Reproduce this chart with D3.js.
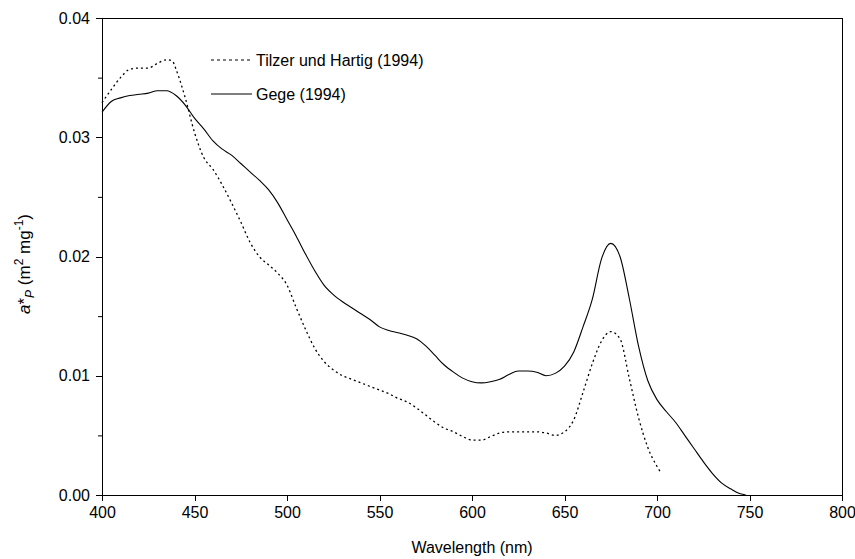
<!DOCTYPE html>
<html>
<head>
<meta charset="utf-8">
<script src="https://cdn.jsdelivr.net/npm/d3@7"></script>
<style>
html,body{margin:0;padding:0;background:#fff;}
svg{display:block;}
text{font-family:"Liberation Sans",Arial,sans-serif;fill:#000;}
</style>
</head>
<body>
<svg id="chart" width="855" height="559"></svg>
<script>
// ---- data ----
const gegeWavelength = [400,405,410,415,420,425,430,435,440,445,450,455,460,465,470,475,480,485,490,495,500,505,510,515,520,525,530,535,540,545,550,555,560,565,570,575,580,585,590,595,600,605,610,615,620,625,630,635,640,645,650,655,660,665,670,675,680,685,690,695,700,705,710,715,720,725,730,735,740,745,748];
const gegeValues = [0.0321,0.0330,0.0333,0.0335,0.0336,0.0337,0.0339,0.0339,0.0335,0.0327,0.0316,0.0307,0.0297,0.0290,0.0285,0.0278,0.0271,0.0264,0.0256,0.0245,0.0231,0.0217,0.0202,0.0188,0.0176,0.0168,0.0162,0.0157,0.0152,0.0147,0.0141,0.0138,0.0136,0.0134,0.0131,0.0125,0.0117,0.0109,0.0103,0.0098,0.0095,0.0094,0.0095,0.0097,0.0101,0.0104,0.0104,0.0103,0.0100,0.0102,0.0108,0.0120,0.0141,0.0164,0.0198,0.0211,0.0200,0.0165,0.0125,0.0096,0.0080,0.0070,0.0061,0.0050,0.0039,0.0028,0.0018,0.0010,0.0005,0.0001,0.0000];

const tilzerWavelength = [400,405,410,415,420,425,430,435,438,440,445,450,455,460,465,470,475,480,485,490,495,500,505,510,515,520,525,530,535,540,545,550,555,560,565,570,575,580,585,590,595,600,605,610,615,620,625,630,635,640,645,650,655,660,665,670,675,680,685,690,695,700,702];
const tilzerValues = [0.0329,0.0340,0.0350,0.0357,0.0358,0.0358,0.0362,0.0365,0.0364,0.0357,0.0333,0.0304,0.0283,0.0273,0.0260,0.0245,0.0229,0.0212,0.0200,0.0193,0.0186,0.0176,0.0157,0.0139,0.0123,0.0112,0.0105,0.0100,0.0097,0.0094,0.0091,0.0088,0.0085,0.0081,0.0078,0.0073,0.0067,0.0061,0.0056,0.0053,0.0049,0.0046,0.0046,0.0049,0.0052,0.0053,0.0053,0.0053,0.0053,0.0052,0.0050,0.0053,0.0063,0.0086,0.0110,0.0129,0.0137,0.0131,0.0098,0.0065,0.0040,0.0024,0.0019];

const seriesNames = ["Tilzer und Hartig (1994)", "Gege (1994)"];
const xTicks = [400,450,500,550,600,650,700,750,800];
const yTicks = [0.00,0.01,0.02,0.03,0.04];
const yMinorTicks = [0.005,0.015,0.025,0.035];

// ---- layout ----
const svg = d3.select("#chart");
const margin = {left:102, right:13, top:18, bottom:64};
const W = 855, H = 559;
const x = d3.scaleLinear().domain([400,800]).range([margin.left, W - margin.right]);
const y = d3.scaleLinear().domain([0,0.04]).range([H - margin.bottom, margin.top]);

// frame (top and right)
svg.append("line").attr("x1",x(400)).attr("x2",x(800)).attr("y1",y(0.04)).attr("y2",y(0.04))
  .attr("stroke","#000").attr("stroke-width",1).attr("shape-rendering","crispEdges");
svg.append("line").attr("x1",x(800)).attr("x2",x(800)).attr("y1",y(0.04)).attr("y2",y(0))
  .attr("stroke","#000").attr("stroke-width",1).attr("shape-rendering","crispEdges");

// axes
const xAxis = d3.axisBottom(x).tickValues(xTicks).tickFormat(d3.format("d")).tickSize(6).tickSizeOuter(0).tickPadding(6);
const gx = svg.append("g").attr("transform",`translate(0,${y(0)})`).call(xAxis);
const yAxis = d3.axisLeft(y).tickValues(yTicks).tickFormat(d3.format(".2f")).tickSize(6).tickSizeOuter(0).tickPadding(6);
const gy = svg.append("g").attr("transform",`translate(${x(400)},0)`).call(yAxis);
const yMinor = d3.axisLeft(y).tickValues(yMinorTicks).tickFormat("").tickSize(4).tickSizeOuter(0);
svg.append("g").attr("transform",`translate(${x(400)},0)`).call(yMinor).select(".domain").remove();

[gx,gy].forEach(g=>{
  g.selectAll("text").style("font-family","'Liberation Sans',Arial,sans-serif").style("font-size","16px").attr("fill","#000");
  g.selectAll("line,path").attr("stroke","#000").attr("shape-rendering","crispEdges");
});

// axis titles
svg.append("text").attr("x",(x(400)+x(800))/2).attr("y",553).attr("text-anchor","middle")
  .style("font-size","16px").text("Wavelength (nm)");

const yl = svg.append("text").attr("transform",`translate(30,264) rotate(-90)`)
  .attr("text-anchor","middle").style("font-size","17px");
yl.append("tspan").style("font-style","italic").text("a");
yl.append("tspan").text("*");
yl.append("tspan").style("font-style","italic").style("font-size","12px").attr("dy",4).text("P");
yl.append("tspan").attr("dy",-4).text(" (m");
yl.append("tspan").style("font-size","12px").attr("dy",-7).text("2");
yl.append("tspan").attr("dy",7).text(" mg");
yl.append("tspan").style("font-size","12px").attr("dy",-7).text("-1");
yl.append("tspan").attr("dy",7).text(")");

// lines
const line = d3.line().x(d=>x(d[0])).y(d=>y(d[1])).curve(d3.curveMonotoneX);
const tilzer = tilzerWavelength.map((w,i)=>[w,tilzerValues[i]]);
const gege = gegeWavelength.map((w,i)=>[w,gegeValues[i]]);

svg.append("path").datum(tilzer).attr("d",line).attr("fill","none").attr("stroke","#000")
  .attr("stroke-width",1.3).attr("stroke-dasharray","2,3");
svg.append("path").datum(gege).attr("d",line).attr("fill","none").attr("stroke","#000")
  .attr("stroke-width",1.1);

// legend
const legend = [
  {name:seriesNames[0], dash:"3,3", yPos:60},
  {name:seriesNames[1], dash:null, yPos:94}
];
legend.forEach(l=>{
  const ln = svg.append("line").attr("x1",211).attr("x2",252).attr("y1",l.yPos).attr("y2",l.yPos)
    .attr("stroke","#000").attr("stroke-width",1.1);
  if(l.dash) ln.attr("stroke-dasharray",l.dash);
  svg.append("text").attr("x",256).attr("y",l.yPos+6).style("font-size","16px").text(l.name);
});
</script>
</body>
</html>
